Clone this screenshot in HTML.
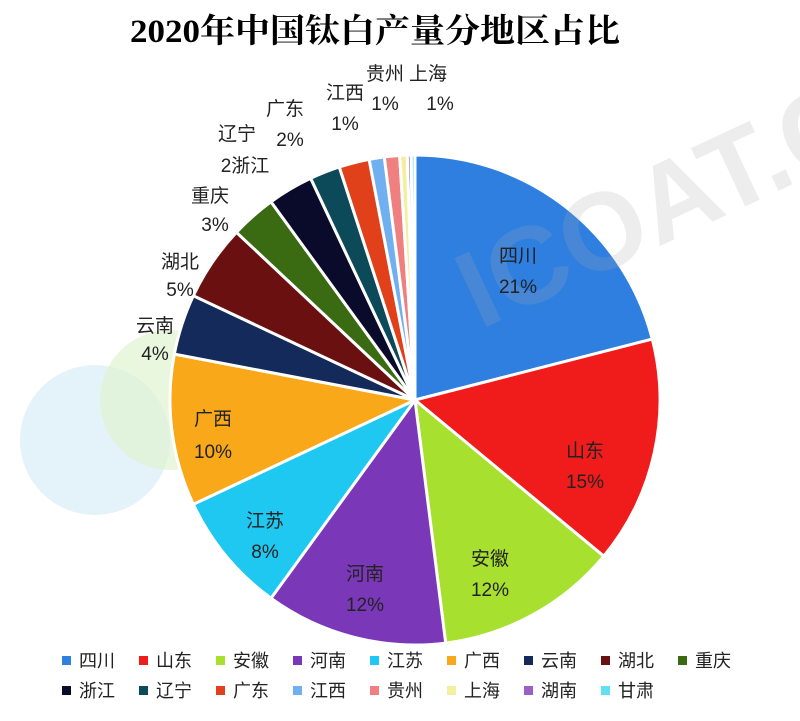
<!DOCTYPE html>
<html><head><meta charset="utf-8"><style>
body{margin:0;background:#fff;width:800px;height:716px;overflow:hidden}
text{font-family:"Liberation Sans","Noto Sans CJK SC",sans-serif}
</style></head><body>
<svg id="s" width="800" height="716" xmlns="http://www.w3.org/2000/svg">
<circle cx="95" cy="440" r="75" fill="#d8ecf8" opacity="0.7"/>
<circle cx="170" cy="400" r="70" fill="#dff3d0" opacity="0.7"/>
<text x="130" y="42" font-size="33" font-weight="bold" fill="#000" textLength="490" lengthAdjust="spacingAndGlyphs" style="font-family:'Liberation Serif','Noto Serif CJK SC',serif">2020年中国钛白产量分地区占比</text>
<g id="pie"></g>
<text x="480" y="330" font-size="110" font-weight="bold" fill="#aaa" opacity="0.2" transform="rotate(-25 480 330)">ICOAT.CC</text>
<g id="lab" font-size="19" fill="#222" text-anchor="middle"></g>
<g id="leg" font-size="18" fill="#222"></g>
</svg>
<script>
var d=[["四川",21,"#2e7fe0"],["山东",15,"#f01c1c"],["安徽",12,"#a8e030"],["河南",12,"#7a38b8"],["江苏",8,"#1ec8f0"],["广西",10,"#f8a818"],["云南",4,"#142a5a"],["湖北",5,"#6a1010"],["重庆",3,"#3a6a12"],["浙江",3,"#0a0a2a"],["辽宁",2,"#0c4a5a"],["广东",2,"#e0401a"],["江西",1,"#70b0f0"],["贵州",1,"#f08080"],["上海",0.5,"#f0f0a0"],["湖南",0.25,"#9a60c8"],["甘肃",0.25,"#60e0f0"]];
var tot=0;d.forEach(function(e){tot+=e[1]});
var cx=415,cy=400,r=245,a=0,h="";
d.forEach(function(e){var b=a+e[1]/tot*2*Math.PI;
var x1=cx+r*Math.sin(a),y1=cy-r*Math.cos(a),x2=cx+r*Math.sin(b),y2=cy-r*Math.cos(b);
h+='<path d="M'+cx+' '+cy+'L'+x1+' '+y1+'A'+r+' '+r+' 0 '+((b-a)>Math.PI?1:0)+' 1 '+x2+' '+y2+'Z" fill="'+e[2]+'" stroke="#fff" stroke-width="3"/>';a=b;});
document.getElementById("pie").innerHTML=h;
var L=[["四川",518,262],["21%",518,293],["山东",585,457],["15%",585,488],["安徽",490,565],["12%",490,596],["河南",365,580],["12%",365,611],["江苏",265,527],["8%",265,558],["广西",213,425],["10%",213,458],["云南",155,332],["4%",155,360],["湖北",180,268],["5%",180,296],["重庆",210,202],["3%",215,231],["2浙江",245,172],["辽宁",237,140],["广东",285,115],["2%",290,146],["江西",345,99],["1%",345,130],["贵州",385,80],["1%",385,110],["上海",428,80],["1%",440,110]];
var g="";L.forEach(function(l){g+='<text x="'+l[1]+'" y="'+l[2]+'">'+l[0]+'</text>'});
document.getElementById("lab").innerHTML=g;
var lg="";d.forEach(function(e,i){var row=i<9?0:1,col=i<9?i:i-9;var x=62+col*77,y=row?692:662;
lg+='<rect x="'+x+'" y="'+(y-6)+'" width="9" height="9" fill="'+e[2]+'"/><text x="'+(x+17)+'" y="'+(y+5)+'">'+e[0]+'</text>'});
document.getElementById("leg").innerHTML=lg;
</script>
</body></html>
